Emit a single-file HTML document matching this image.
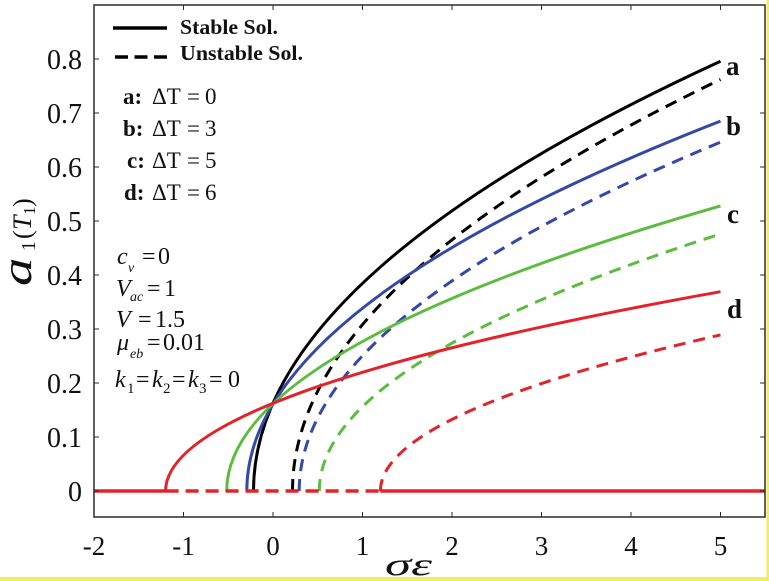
<!DOCTYPE html>
<html><head><meta charset="utf-8"><style>
html,body{margin:0;padding:0;background:#fff;}
svg{display:block;font-family:"Liberation Serif",serif;}
svg text{font-family:"Liberation Serif",serif;fill:#111;}
</style></head><body>
<svg width="769" height="581" viewBox="0 0 769 581" xmlns="http://www.w3.org/2000/svg" font-family="Liberation Serif, serif">
<rect x="0" y="0" width="769" height="581" fill="#fff"/>
<rect x="766.5" y="0" width="2.5" height="581" fill="#f3eb63"/>
<rect x="0" y="577" width="769" height="4" fill="#f3eb63"/>

<!-- curves -->
<g fill="none" stroke-width="3" stroke-linecap="butt">
  <path d="M253.5,491 Q253.5,276.1 720.5,61.2" stroke="#000"/>
  <path d="M292.5,491 Q292.5,285.3 720.5,79.5" stroke="#000" stroke-dasharray="12 8"/>
  <path d="M246.8,491 Q246.8,306.05 720.5,121.1" stroke="#3448a6"/>
  <path d="M299.2,491 Q299.2,316.6 720.5,142.2" stroke="#3448a6" stroke-dasharray="12 8"/>
  <path d="M226.7,491 Q226.7,348.4 720.5,205.9" stroke="#5cbc3e"/>
  <path d="M319.3,491 Q319.3,362.5 720.5,234" stroke="#5cbc3e" stroke-dasharray="12 8"/>
  <path d="M165.6,491 Q165.6,391.3 720.5,291.7" stroke="#e42229"/>
  <path d="M380.4,491 Q380.4,413 720.5,334.9" stroke="#e42229" stroke-dasharray="12 8"/>
  <path d="M94,491 L165.6,491" stroke="#e42229" stroke-width="3.5"/>
  <path d="M165.6,491 L380.4,491" stroke="#e42229" stroke-width="3.5" stroke-dasharray="13 7"/>
  <path d="M380.4,491 L765,491" stroke="#e42229" stroke-width="3.5"/>
</g>

<!-- frame -->
<rect x="94" y="5" width="671" height="512" fill="none" stroke="#2b2b2b" stroke-width="1.5"/>
<g stroke="#2b2b2b" stroke-width="1">
  <path d="M183.5,517v-5M273,517v-5M362.5,517v-5M452,517v-5M541.5,517v-5M631,517v-5M720.5,517v-5"/>
  <path d="M183.5,5v5M273,5v5M362.5,5v5M452,5v5M541.5,5v5M631,5v5M720.5,5v5"/>
  <path d="M94,491h5M94,437h5M94,383h5M94,329h5M94,275h5M94,221h5M94,167h5M94,113h5M94,59h5"/>
  <path d="M765,491h-5M765,437h-5M765,383h-5M765,329h-5M765,275h-5M765,221h-5M765,167h-5M765,113h-5M765,59h-5"/>
</g>

<!-- y tick labels -->
<g font-size="28" text-anchor="end" font-family="Liberation Serif, serif">
  <text x="82" y="501">0</text>
  <text x="82" y="447">0.1</text>
  <text x="82" y="393">0.2</text>
  <text x="82" y="339">0.3</text>
  <text x="82" y="285">0.4</text>
  <text x="82" y="231">0.5</text>
  <text x="82" y="177">0.6</text>
  <text x="82" y="123">0.7</text>
  <text x="82" y="69">0.8</text>
</g>
<!-- x tick labels -->
<g font-size="27" text-anchor="middle" font-family="Liberation Serif, serif">
  <text x="94" y="555">-2</text>
  <text x="183.5" y="555">-1</text>
  <text x="273" y="555">0</text>
  <text x="362.5" y="555">1</text>
  <text x="452" y="555">2</text>
  <text x="541.5" y="555">3</text>
  <text x="631" y="555">4</text>
  <text x="720.5" y="555">5</text>
</g>
<!-- x label -->
<text x="385" y="575" font-size="32" font-style="italic" font-family="Liberation Serif, serif" textLength="47" lengthAdjust="spacingAndGlyphs">σε</text>

<!-- y label -->
<g transform="translate(31,0) rotate(-90)" font-family="Liberation Serif, serif">
  <g transform="translate(-286,0) scale(1.35,1)">
    <text x="0" y="0" font-size="42" font-style="italic">a</text>
  </g>
  <text x="-251" y="4" font-size="20">1</text>
  <text x="-239" y="0" font-size="26">(</text>
  <text x="-230" y="0" font-size="26" font-style="italic">T</text>
  <text x="-215" y="4" font-size="17">1</text>
  <text x="-207" y="0" font-size="26">)</text>
</g>

<!-- legend -->
<path d="M113,28H167" stroke="#000" stroke-width="3.5"/>
<path d="M115,57H167" stroke="#000" stroke-width="3.5" stroke-dasharray="13 6.5"/>
<text x="180" y="34" font-size="21" font-weight="bold" font-family="Liberation Serif, serif" textLength="98" lengthAdjust="spacingAndGlyphs">Stable Sol.</text>
<text x="180" y="60" font-size="21" font-weight="bold" font-family="Liberation Serif, serif" textLength="123" lengthAdjust="spacingAndGlyphs">Unstable Sol.</text>

<!-- ΔT labels -->
<g font-size="23" font-family="Liberation Serif, serif">
  <text x="123" y="104" font-weight="bold">a:</text><text x="152" y="104">ΔT</text><text x="187" y="104">=</text><text x="205" y="104">0</text>
  <text x="123" y="136" font-weight="bold">b:</text><text x="152" y="136">ΔT</text><text x="187" y="136">=</text><text x="205" y="136">3</text>
  <text x="127" y="168" font-weight="bold">c:</text><text x="152" y="168">ΔT</text><text x="187" y="168">=</text><text x="205" y="168">5</text>
  <text x="124" y="200" font-weight="bold">d:</text><text x="152" y="200">ΔT</text><text x="187" y="200">=</text><text x="205" y="200">6</text>
</g>

<!-- parameter block -->
<g font-size="24" font-family="Liberation Serif, serif">
  <text x="117" y="264" font-style="italic">c</text><text x="128" y="272" font-size="14" font-style="italic">v</text><text x="142" y="264">=</text><text x="158" y="264">0</text>
  <text x="116" y="296" font-style="italic">V</text><text x="130" y="301" font-size="14" font-style="italic">ac</text><text x="147" y="296">=</text><text x="164" y="296">1</text>
  <text x="116" y="327" font-style="italic">V</text><text x="138" y="327">=</text><text x="155" y="327">1.5</text>
  <text x="117" y="350" font-style="italic">μ</text><text x="130" y="358" font-size="14" font-style="italic">eb</text><text x="147" y="350">=</text><text x="163" y="350">0.01</text>
  <text x="115" y="387" font-style="italic">k</text><text x="127" y="393" font-size="15">1</text><text x="136" y="387">=</text>
  <text x="152" y="387" font-style="italic">k</text><text x="163" y="393" font-size="15">2</text><text x="172" y="387">=</text>
  <text x="188" y="387" font-style="italic">k</text><text x="199" y="393" font-size="15">3</text><text x="209" y="387">=</text>
  <text x="228" y="387">0</text>
</g>

<!-- curve labels -->
<g font-size="27" font-weight="bold" font-family="Liberation Serif, serif">
  <text x="726" y="75">a</text>
  <text x="726" y="135">b</text>
  <text x="727" y="223">c</text>
  <text x="727" y="318">d</text>
</g>
</svg>
</body></html>
